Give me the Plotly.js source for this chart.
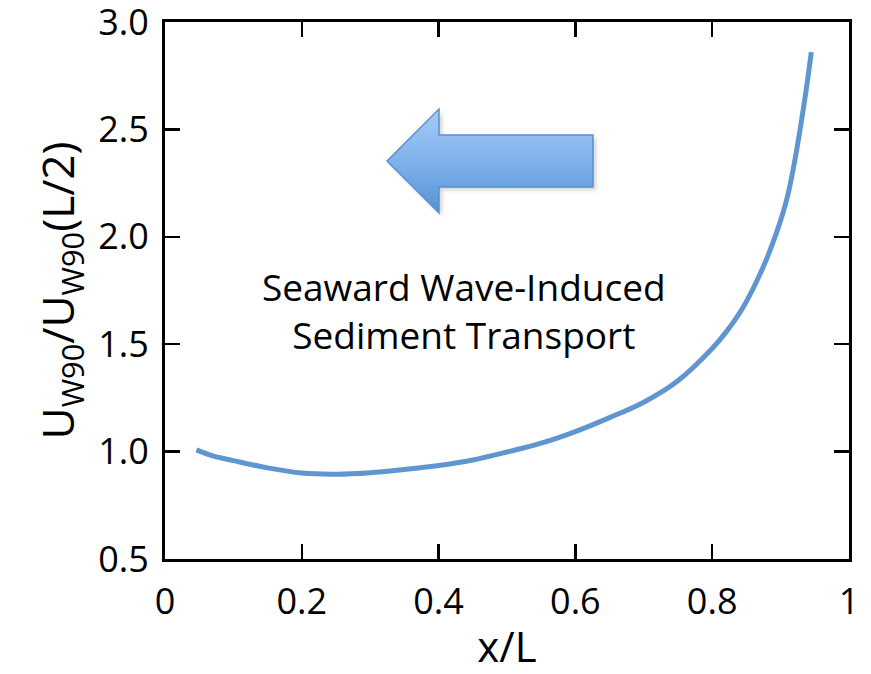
<!DOCTYPE html>
<html>
<head>
<meta charset="utf-8">
<script src="https://cdn.plot.ly/plotly-3.0.1.min.js"></script>
<style>
  html, body { margin: 0; padding: 0; background: #ffffff; }
  #chart { width: 871px; height: 674px; }
</style>
</head>
<body>
<div id="chart"></div>
<script>
// Normalised position along the profile, x/L
const xOverL = [0.046, 0.07, 0.1, 0.15, 0.2, 0.25, 0.3, 0.35, 0.4, 0.45, 0.5, 0.55,
                0.6, 0.65, 0.7, 0.75, 0.8, 0.82, 0.846, 0.875, 0.894, 0.909, 0.92, 0.935, 0.945];
// Near-bed orbital velocity ratio U_w90 / U_w90(L/2)
const velocityRatio = [1.008, 0.98, 0.958, 0.924, 0.900, 0.895, 0.902, 0.917, 0.935, 0.961, 0.998, 1.039,
                       1.093, 1.158, 1.23, 1.33, 1.48, 1.555, 1.676, 1.862, 2.018, 2.173, 2.34, 2.63, 2.86];

// Axis ticks
const xTickVals = [0, 0.2, 0.4, 0.6, 0.8, 1];
const xTickText = ['0', '0.2', '0.4', '0.6', '0.8', '1'];
const yTickVals = [0.5, 1.0, 1.5, 2.0, 2.5, 3.0];
const yTickText = ['0.5', '1.0', '1.5', '2.0', '2.5', '3.0'];

const FONT = '"Open Sans", "Noto Sans", sans-serif';

// Left-pointing block arrow, in paper fractions of the plot area
const arrowPath = 'M 0.3246 0.7412 L 0.4006 0.8380 L 0.4006 0.7896 L 0.6257 0.7896 ' +
                  'L 0.6257 0.6927 L 0.4006 0.6927 L 0.4006 0.6443 Z';
const shadowPath = 'M 0.3290 0.7360 L 0.4050 0.8328 L 0.4050 0.7844 L 0.6301 0.7844 ' +
                   'L 0.6301 0.6875 L 0.4050 0.6875 L 0.4050 0.6391 Z';

const traces = [{
  type: 'scatter',
  mode: 'lines',
  x: xOverL,
  y: velocityRatio,
  line: { color: '#6096cf', width: 5, shape: 'spline', smoothing: 1.0 },
  hoverinfo: 'skip',
  showlegend: false
}];

const axisCommon = {
  showgrid: false,
  zeroline: false,
  showline: true,
  linecolor: '#000000',
  linewidth: 3,
  mirror: 'ticks',
  ticks: 'inside',
  ticklen: 15,
  tickwidth: 2.5,
  tickcolor: '#000000',
  tickfont: { family: FONT, size: 36, color: '#000000' },
  ticklabeloverflow: 'allow',
  fixedrange: true
};

const layout = {
  width: 871,
  height: 674,
  paper_bgcolor: '#ffffff',
  plot_bgcolor: '#ffffff',
  margin: { l: 165, r: 22, t: 22, b: 115 },
  showlegend: false,
  xaxis: Object.assign({}, axisCommon, {
    range: [0, 1.0001],
    tickmode: 'array',
    tickvals: xTickVals,
    ticktext: xTickText,
    ticklabelstandoff: 9,
    title: { text: 'x/L', font: { family: FONT, size: 42, color: '#000000' }, standoff: 10 }
  }),
  yaxis: Object.assign({}, axisCommon, {
    range: [0.4999, 3.0001],
    tickmode: 'array',
    tickvals: yTickVals,
    ticktext: yTickText,
    ticklabelstandoff: 6,
    title: {
      text: 'U<sub>W90</sub>/U<sub>W90</sub>(L/2)',
      font: { family: FONT, size: 44, color: '#000000' },
      standoff: 10
    }
  }),
  shapes: [
    {
      // soft drop shadow under the arrow
      type: 'path', xref: 'paper', yref: 'paper', layer: 'above',
      path: shadowPath,
      fillcolor: 'rgba(0,0,0,0.18)', line: { width: 0 }
    },
    {
      type: 'path', xref: 'paper', yref: 'paper', layer: 'above',
      path: arrowPath,
      fillcolor: '#7aaee8',
      line: { color: '#5b8fcf', width: 1.5 }
    }
  ],
  annotations: [{
    xref: 'paper', yref: 'paper',
    x: 0.437, y: 0.462,
    xanchor: 'center', yanchor: 'middle',
    text: 'Seaward Wave-Induced<br>Sediment Transport',
    showarrow: false,
    align: 'center',
    font: { family: FONT, size: 37, color: '#000000' }
  }]
};

Plotly.newPlot('chart', traces, layout, { staticPlot: true, displayModeBar: false }).then(function (gd) {
  // vertical light-to-mid blue gradient for the arrow body
  const svg = gd.querySelector('svg.main-svg');
  const ns = 'http://www.w3.org/2000/svg';
  let defs = svg.querySelector('defs');
  if (!defs) { defs = document.createElementNS(ns, 'defs'); svg.insertBefore(defs, svg.firstChild); }
  const grad = document.createElementNS(ns, 'linearGradient');
  grad.setAttribute('id', 'arrowGrad');
  grad.setAttribute('x1', '0'); grad.setAttribute('y1', '0');
  grad.setAttribute('x2', '0'); grad.setAttribute('y2', '1');
  [['0', '#a6cbf6'], ['0.5', '#80b2ec'], ['1', '#5591d6']].forEach(function (s) {
    const stop = document.createElementNS(ns, 'stop');
    stop.setAttribute('offset', s[0]);
    stop.setAttribute('stop-color', s[1]);
    grad.appendChild(stop);
  });
  defs.appendChild(grad);
  const blur = document.createElementNS(ns, 'filter');
  blur.setAttribute('id', 'arrowShadow');
  const fe = document.createElementNS(ns, 'feGaussianBlur');
  fe.setAttribute('stdDeviation', '2');
  blur.appendChild(fe);
  defs.appendChild(blur);
  const paths = gd.querySelectorAll('.layer-above .shapelayer path');
  if (paths.length >= 2) {
    paths[0].setAttribute('filter', 'url(#arrowShadow)');
    paths[1].style.fill = 'url(#arrowGrad)';
  }
});
</script>
</body>
</html>
